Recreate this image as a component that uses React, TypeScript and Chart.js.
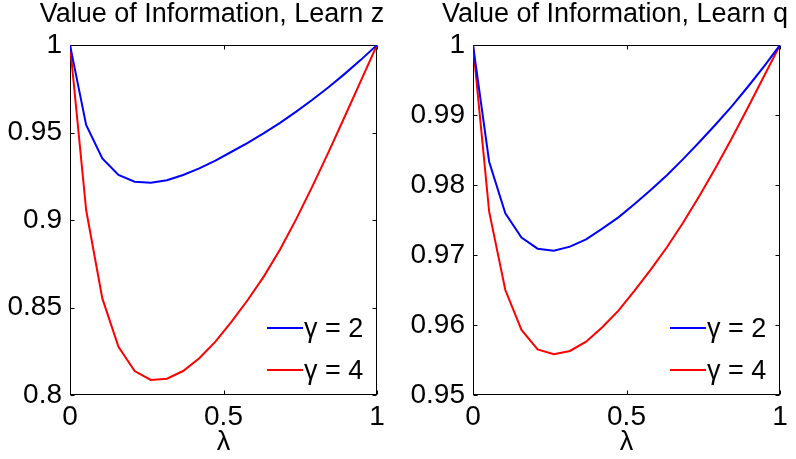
import React, { useEffect, useRef } from "react";
import { Chart, registerables } from "chart.js";

Chart.register(...registerables);

// λ sample points (20 evenly spaced values on [0, 1])
const LAMBDA = [
  0, 0.0526, 0.1053, 0.1579, 0.2105, 0.2632, 0.3158, 0.3684, 0.4211, 0.4737,
  0.5263, 0.5789, 0.6316, 0.6842, 0.7368, 0.7895, 0.8421, 0.8947, 0.9474, 1,
];

// Value of information when learning z
const LEARN_Z_GAMMA2 = [
  1, 0.9543, 0.9352, 0.9257, 0.9219, 0.9213, 0.9227, 0.9257, 0.9295, 0.9339,
  0.939, 0.9441, 0.9496, 0.9555, 0.9619, 0.9687, 0.9759, 0.9835, 0.9915, 1,
];
const LEARN_Z_GAMMA4 = [
  1, 0.9057, 0.8552, 0.8276, 0.8137, 0.8086, 0.8093, 0.8137, 0.821, 0.8305,
  0.8419, 0.8543, 0.8678, 0.8832, 0.9005, 0.9192, 0.9388, 0.959, 0.9795, 1,
];

// Value of information when learning q
const LEARN_Q_GAMMA2 = [
  1, 0.98333, 0.97595, 0.97248, 0.9709, 0.97062, 0.97119, 0.97224, 0.97376, 0.97538,
  0.9773, 0.9793, 0.9814, 0.9837, 0.9861, 0.9886, 0.9912, 0.994, 0.9969, 1,
];
const LEARN_Q_GAMMA4 = [
  1, 0.97619, 0.965, 0.95929, 0.95652, 0.95581, 0.95629, 0.95762, 0.95967, 0.96205,
  0.9649, 0.9679, 0.9711, 0.9746, 0.9784, 0.9824, 0.9866, 0.991, 0.9955, 1,
];

const X_TICKS = [0, 0.5, 1];
const Z_Y_TICKS = [0.8, 0.85, 0.9, 0.95, 1];
const Q_Y_TICKS = [0.95, 0.96, 0.97, 0.98, 0.99, 1];
const SERIES_LABELS = ["γ = 2", "γ = 4"];
const SERIES_COLORS = ["#0000ff", "#ff0000"];
const TITLES = ["Value of Information, Learn z", "Value of Information, Learn q"];
const X_LABEL = "λ";

const FONT_FAMILY = '"Liberation Sans", Arial, Helvetica, sans-serif';
const FONT_SIZE = 27;
const TICK_FONT_SIZE = 28;

const fmt = (v: number | string) => String(Number(Number(v).toFixed(2)));

// Box frame with inward ticks, the title above and an in-axes legend.
const boxAxesPlugin = {
  id: "boxAxes",
  beforeDatasetsDraw(chart: any) {
    const { ctx, chartArea: a, scales } = chart;
    const L = Math.round(a.left) + 0.5;
    const R = Math.round(a.right) - 0.5;
    const T = Math.round(a.top) + 0.5;
    const B = Math.round(a.bottom) - 0.5;
    const tick = 4;
    ctx.save();
    ctx.strokeStyle = "#000";
    ctx.lineWidth = 1;
    ctx.strokeRect(L, T, R - L, B - T);
    ctx.beginPath();
    for (const t of scales.x.ticks) {
      const px = Math.round(scales.x.getPixelForValue(t.value)) + 0.5;
      ctx.moveTo(px, T);
      ctx.lineTo(px, T + tick);
      ctx.moveTo(px, B);
      ctx.lineTo(px, B - tick);
    }
    for (const t of scales.y.ticks) {
      const py = Math.round(scales.y.getPixelForValue(t.value)) + 0.5;
      ctx.moveTo(L, py);
      ctx.lineTo(L + tick, py);
      ctx.moveTo(R, py);
      ctx.lineTo(R - tick, py);
    }
    ctx.stroke();
    ctx.restore();
  },
  afterDatasetsDraw(chart: any, _args: any, opts: any) {
    const { ctx, chartArea: a } = chart;
    ctx.save();
    ctx.fillStyle = "#000";
    ctx.font = `${FONT_SIZE}px ${FONT_FAMILY}`;
    ctx.textAlign = "center";
    ctx.textBaseline = "alphabetic";
    ctx.fillText(opts.title, (a.left + a.right) / 2 - 11.5, 22);

    // legend in the lower right corner
    const rowY = [a.bottom - 67, a.bottom - 25];
    chart.data.datasets.forEach((ds: any, i: number) => {
      const y = rowY[i];
      ctx.strokeStyle = ds.borderColor;
      ctx.lineWidth = 2;
      ctx.beginPath();
      ctx.moveTo(a.right - 110, y);
      ctx.lineTo(a.right - 74, y);
      ctx.stroke();
      ctx.textAlign = "left";
      ctx.textBaseline = "middle";
      ctx.fillText(ds.label, a.right - 73, y + 2);
    });
    ctx.restore();
  },
};

function makeConfig(
  title: string,
  g2: number[],
  g4: number[],
  yTicks: number[],
  padLeft: number,
  padRight: number
): any {
  const font = { family: FONT_FAMILY, size: FONT_SIZE };
  const tickFont = { family: FONT_FAMILY, size: TICK_FONT_SIZE };
  const series = [g2, g4];
  return {
    type: "line",
    data: {
      datasets: series.map((vals, i) => ({
        label: SERIES_LABELS[i],
        data: LAMBDA.map((x, k) => ({ x, y: vals[k] })),
        borderColor: SERIES_COLORS[i],
        backgroundColor: SERIES_COLORS[i],
        borderWidth: 2,
        pointRadius: 0,
        tension: 0,
        fill: false,
      })),
    },
    options: {
      animation: false,
      responsive: false,
      devicePixelRatio: 1,
      layout: { padding: { top: 45, left: padLeft, right: padRight, bottom: 0 } },
      plugins: {
        legend: { display: false },
        title: { display: false },
        tooltip: { enabled: false },
        boxAxes: { title },
      },
      scales: {
        x: {
          type: "linear",
          min: 0,
          max: 1,
          afterBuildTicks: (s: any) => {
            s.ticks = X_TICKS.map((value) => ({ value }));
          },
          grid: { display: false, drawTicks: false },
          border: { display: false },
          ticks: { padding: 5, color: "#000", font: tickFont, maxRotation: 0, callback: fmt },
          title: {
            display: true,
            text: X_LABEL,
            color: "#000",
            font,
            padding: { top: 0, bottom: 0 },
          },
          afterFit: (s: any) => {
            s.height = 64;
          },
        },
        y: {
          type: "linear",
          min: yTicks[0],
          max: yTicks[yTicks.length - 1],
          afterBuildTicks: (s: any) => {
            s.ticks = yTicks.map((value) => ({ value }));
          },
          grid: { display: false, drawTicks: false },
          border: { display: false },
          ticks: { padding: 8, color: "#000", font: tickFont, callback: fmt },
          afterFit: (s: any) => {
            s.width = 70;
          },
        },
      },
    },
    plugins: [boxAxesPlugin],
  };
}

const W = 796;
const H = 459;

export default function App() {
  const leftRef = useRef<HTMLCanvasElement | null>(null);
  const rightRef = useRef<HTMLCanvasElement | null>(null);

  useEffect(() => {
    document.body.style.margin = "0";
    const charts: Chart[] = [];
    if (leftRef.current) {
      charts.push(
        new Chart(
          leftRef.current,
          makeConfig(TITLES[0], LEARN_Z_GAMMA2, LEARN_Z_GAMMA4, Z_Y_TICKS, 0, W - 377)
        )
      );
    }
    if (rightRef.current) {
      charts.push(
        new Chart(
          rightRef.current,
          makeConfig(TITLES[1], LEARN_Q_GAMMA2, LEARN_Q_GAMMA4, Q_Y_TICKS, 403, W - 780)
        )
      );
    }
    return () => charts.forEach((c) => c.destroy());
  }, []);

  const canvasStyle: React.CSSProperties = {
    position: "absolute",
    left: 0,
    top: 0,
    width: W,
    height: H,
  };

  return (
    <div
      style={{
        position: "fixed",
        left: 0,
        top: 0,
        width: W,
        height: H,
        background: "#fff",
        overflow: "hidden",
      }}
    >
      <canvas ref={leftRef} width={W} height={H} style={canvasStyle} />
      <canvas ref={rightRef} width={W} height={H} style={canvasStyle} />
    </div>
  );
}
